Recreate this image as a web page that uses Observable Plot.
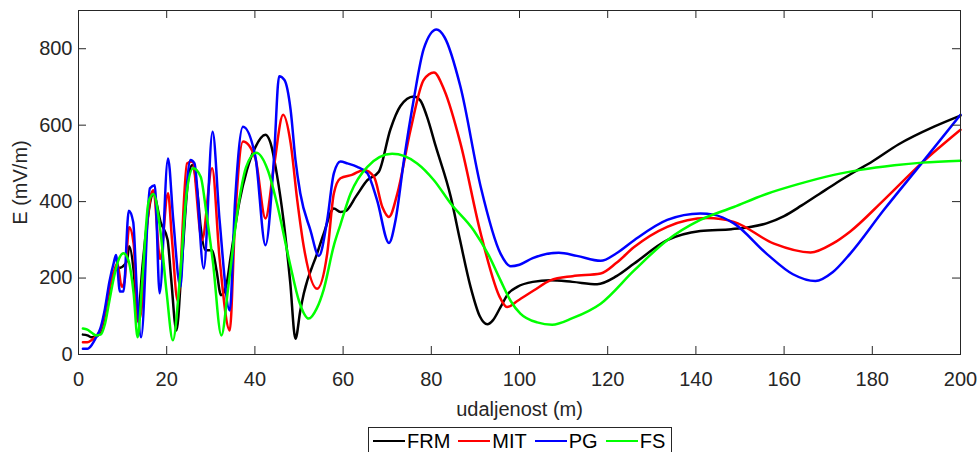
<!DOCTYPE html>
<html>
<head>
<meta charset="utf-8">
<script src="https://cdn.jsdelivr.net/npm/d3@7"></script>
<script src="https://cdn.jsdelivr.net/npm/@observablehq/plot@0.6"></script>
<style>
  body { margin: 0; background: #fff; }
  #wrap { position: relative; width: 979px; height: 452px; overflow: hidden; font-family: "Liberation Sans", Arial, sans-serif; }
  #legend { position: absolute; left: 368px; top: 427px; height: 40px; border: 1px solid #262626; background: #fff;
            display: flex; align-items: flex-start; padding: 0 6px 0 4px; box-sizing: border-box; font-size: 20px; color: #000; }
  .item { display: flex; align-items: center; height: 26px; }
  .swatch { width: 32px; height: 2.5px; margin-right: 2px; }
  .lab { margin-right: 8px; }
</style>
</head>
<body>
<div id="wrap"><div id="chart"></div><div id="legend"></div></div>
<script>
const seriesNames = ["FRM", "MIT", "PG", "FS"];
const seriesColors = ["#000000", "#ff0000", "#0000ff", "#00ff00"];
const xTicks = [0, 20, 40, 60, 80, 100, 120, 140, 160, 180, 200];
const yTicks = [0, 200, 400, 600, 800];

const frm = [[1,52],[2,50],[3,45],[4,47],[5,60],[6,100],[7,160],[8,215],[9,225],[10,230],[11,245],[11.5,283],[12.5,220],[13.4,89],[14.5,230],[15.5,340],[17,420],[18.6,347],[20.2,300],[21,200],[22.2,63],[23.5,250],[25,470],[25.8,496],[27,420],[27.7,334],[28.8,273],[30.3,273],[31.3,220],[32.3,155],[33.5,180],[34.5,255],[36.5,400],[38.2,483],[40,540],[42.4,575],[43.5,555],[45,470],[46.5,350],[48,190],[49.2,41],[50.3,115],[51.1,160],[54.1,264],[55.6,316],[57.9,382],[59.4,373],[60.5,375],[63,415],[65.5,456],[68.1,478],[70.7,588],[73,650],[76,675],[77.5,665],[79,623],[81,545],[84.4,413],[86.5,300],[88.9,177],[91,100],[92.7,79],[94,90],[95.7,124],[97.5,160],[99.5,177],[103,190],[107,194],[112,190],[117.6,184],[122,205],[126,238],[133.5,299],[141,323],[148,328],[152,333],[156,343],[160,362],[164,390],[168,420],[172,450],[176,478],[180,505],[186,550],[194,596],[200,625]];

const mit = [[1,32],[2,32],[3,38],[4,48],[5,65],[6,110],[7,175],[8,215],[8.8,239],[9.8,177],[10.4,190],[11.5,333],[12.5,290],[13.5,85],[14.3,120],[15.3,300],[16.5,420],[17,430],[18.5,250],[20.3,422],[21.2,300],[22.5,140],[24.6,500],[25.8,505],[28,299],[30.3,487],[32,250],[34.3,63],[35.5,350],[37.3,557],[40.1,513],[42.4,356],[44.3,491],[46.4,627],[48.1,553],[49.6,404],[51.1,281],[54.1,172],[56.4,264],[57.9,421],[59.4,461],[62,470],[64.7,483],[67,465],[68.9,386],[70.4,360],[72.3,421],[75.3,588],[78.3,719],[80.6,738],[83,690],[86.6,553],[91.2,317],[95.7,146],[97.2,124],[99.5,140],[103.3,168],[107,194],[112,205],[118.4,212],[122,240],[126,281],[133.5,334],[142.6,357],[148.6,347],[157.7,290],[166,267],[171,290],[175,322],[182.6,404],[191.3,502],[200,588]];

const pg = [[1,15],[2,15],[3,25],[4,45],[5,70],[6,120],[7,190],[8,240],[8.5,260],[9.4,165],[10.2,165],[11.4,376],[12.4,347],[13.3,150],[14.2,45],[16.2,435],[17.3,443],[18.4,160],[20.3,513],[21.5,350],[23.1,177],[24,350],[25.4,509],[26.3,500],[28.4,225],[30.4,583],[32,350],[34.3,115],[35.5,400],[37.3,596],[40.1,518],[42.4,286],[44.3,509],[45.5,728],[46.7,718],[48.1,640],[49.2,509],[50.3,421],[52.6,325],[54.5,258],[56.4,352],[57.9,474],[59.4,505],[61,500],[63.2,491],[65.5,474],[67.7,404],[70.4,292],[71.9,352],[73.8,509],[76,666],[78.3,800],[81.2,850],[83,830],[86.6,701],[91.2,439],[95.7,264],[98,231],[100,235],[103,252],[108.9,266],[113,258],[118.4,245],[122,265],[126,299],[133.5,352],[141,369],[144,366],[148.6,343],[156,264],[162,210],[167.1,192],[171,215],[175,264],[182.6,378],[191.3,502],[200,627]];

const fs = [[1,68],[2,65],[3,57],[4,50],[5,52],[6,80],[7,140],[8,200],[9,245],[10.2,265],[11.3,247],[12.5,160],[13.4,45],[14.5,200],[15.9,400],[17,420],[18.5,330],[20,160],[21.4,37],[23,200],[24.5,420],[26,487],[27.7,465],[29,370],[30.5,240],[32.4,50],[34,180],[36,370],[38,490],[40.3,528],[43,480],[45,395],[48,235],[50,140],[52.2,94],[54,120],[55.6,170],[57.9,285],[59.4,340],[61.7,421],[65.5,491],[71.1,525],[76.8,500],[80.6,456],[84.4,395],[89.6,325],[93,260],[95.7,194],[98,140],[100.2,107],[104,84],[107.4,78],[112,95],[118.4,133],[126,220],[133.5,299],[141,352],[148.6,386],[156,420],[163,445],[171.3,470],[177.3,483],[185,495],[191.3,502],[200,507]];

const seriesData = [frm, mit, pg, fs];
const rows = seriesData.flatMap((s, i) => s.map(([x, y]) => ({series: seriesNames[i], x, y})));

const W = 979, H = 426, mL = 78, mR = 19, mT = 10, mB = 72;
const innerW = W - mL - mR, innerH = H - mT - mB;
const tick = 8;
const ink = "#262626";

const chart = Plot.plot({
  width: W, height: H,
  marginLeft: mL, marginRight: mR, marginTop: mT, marginBottom: mB,
  style: {fontFamily: '"Liberation Sans", Arial, sans-serif', fontSize: "20px", color: ink, background: "#fff"},
  x: {domain: [0, 200]},
  y: {domain: [0, 900]},
  color: {domain: seriesNames, range: seriesColors},
  marks: [
    Plot.line(rows, {x: "x", y: "y", z: "series", stroke: "series", strokeWidth: 2.5, curve: "monotone-x"}),
    Plot.ruleX(xTicks, {x: d => d, insetTop: innerH - tick, stroke: ink, strokeWidth: 1}),
    Plot.ruleX(xTicks, {x: d => d, insetBottom: innerH - tick, stroke: ink, strokeWidth: 1}),
    Plot.ruleY(yTicks, {y: d => d, insetRight: innerW - tick, stroke: ink, strokeWidth: 1}),
    Plot.ruleY(yTicks, {y: d => d, insetLeft: innerW - tick, stroke: ink, strokeWidth: 1}),
    Plot.frame({stroke: ink, strokeWidth: 1}),
    Plot.axisX({ticks: xTicks, tickSize: 0, tickPadding: 17, fontSize: 20, fill: ink,
      label: "udaljenost (m)", labelAnchor: "center", labelOffset: 61, labelArrow: "none", tickFormat: d => String(d)}),
    Plot.axisY({ticks: yTicks, tickSize: 0, tickPadding: 6, fontSize: 20, fill: ink,
      label: "E (mV/m)", labelAnchor: "center", labelOffset: 66, labelArrow: "none", tickFormat: d => String(d)})
  ]
});
document.getElementById("chart").appendChild(chart);

const legend = document.getElementById("legend");
seriesNames.forEach((n, i) => {
  const it = document.createElement("div");
  it.className = "item";
  const sw = document.createElement("span");
  sw.className = "swatch";
  sw.style.background = seriesColors[i];
  const lb = document.createElement("span");
  lb.className = "lab";
  lb.textContent = n;
  if (i === seriesNames.length - 1) lb.style.marginRight = "0px";
  it.appendChild(sw); it.appendChild(lb);
  legend.appendChild(it);
});
</script>
</body>
</html>
